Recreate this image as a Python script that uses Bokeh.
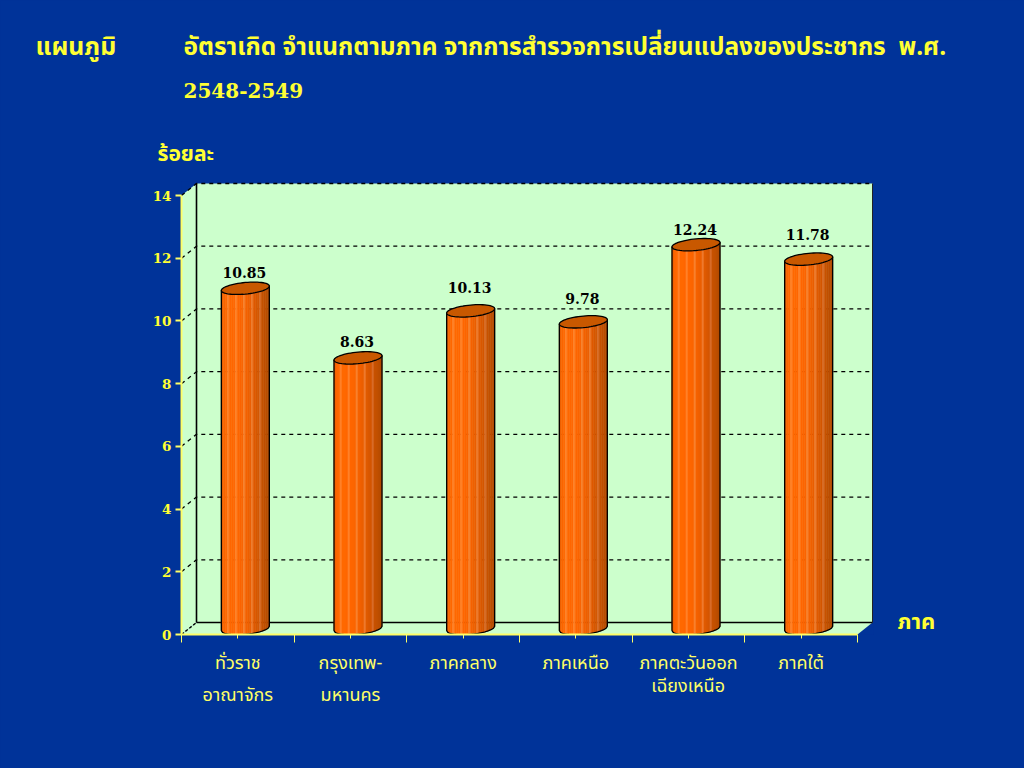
import numpy as np
from bokeh.plotting import figure
from bokeh.models import Label, FixedTicker, LinearAxis
from bokeh.embed import file_html
from bokeh.resources import INLINE

# ---- data ----
values = [10.85, 8.63, 10.13, 9.78, 12.24, 11.78]
value_labels = ["10.85", "8.63", "10.13", "9.78", "12.24", "11.78"]
cat_line1 = ["ทั่วราช", "กรุงเทพ-", "ภาคกลาง", "ภาคเหนือ", "ภาคตะวันออก", "ภาคใต้"]
cat_line2 = ["อาณาจักร", "มหานคร", "", "", "เฉียงเหนือ", ""]
y_ticks = [0, 2, 4, 6, 8, 10, 12, 14]
title_left = "แผนภูมิ"
title_main = "อัตราเกิด จำแนกตามภาค จากการสำรวจการเปลี่ยนแปลงของประชากร\u00a0\u00a0พ.ศ."
title_years = "2548-2549"
y_title = "ร้อยละ"
x_title = "ภาค"

# ---- style / layout ----
BG = "#003399"
WALL = "#CCFFCC"
YEL = "#FFFF66"
TITLE_YEL = "#FFFF33"
THAI = "Noto Sans Thai"
NUM = "DejaVu Serif"
FW, FH = 1024, 768
Y0 = 634
PX_X = (857 - 181) / 6.0      # px per category
PX_Y = (634 - 195) / 14.0     # px per unit
DX, DY = 15 / PX_X, 12 / PX_Y # depth offset in data units
X_MAX, Y_MAX = (873 - 181) / PX_X, (Y0 - 181) / PX_Y
STRIPES = ["#EE6000", "#FB6600", "#FF6800", "#FF8028", "#FF6800", "#FF6800", "#FF6600", "#FF8028",
           "#FF6600", "#FD6500", "#FB6400", "#F8802E", "#F56200", "#F06000", "#EB5E00", "#EE7A2E",
           "#E05A00", "#DA5800", "#D45600", "#D86C28", "#C85200", "#C25000", "#BC4E00", "#B44A00"]
LABEL_LIFT = [1, 2, 9, 9, 1, 10]  # px the value texts sit above their bars

p = figure(width=FW, height=FH, x_range=(0, X_MAX), y_range=(0, Y_MAX),
           output_backend="svg", toolbar_location=None,
           min_border_left=181, min_border_right=151, min_border_top=181, min_border_bottom=FH - Y0,
           background_fill_color=BG, border_fill_color=BG, outline_line_color=None)
p.grid.visible = False
p.xaxis.visible = False
p.yaxis.visible = False

# walls
n = len(values)
top = y_ticks[-1] + DY
p.patch([0, DX, DX, 0], [0, DY, top, top - DY], fill_color=WALL, line_color=None)
p.patch([0, n, n + DX, DX], [0, 0, DY, DY], fill_color=WALL, line_color=None)
p.quad(left=DX, right=n + DX, bottom=DY, top=top, fill_color=WALL, line_color=None)

# grid on walls
for t in y_ticks[1:]:
    p.line([0, DX, n + DX], [t, t + DY, t + DY], line_color="black", line_width=1.3, line_dash="4 4")
p.line([0, DX], [0, DY], line_color="black", line_width=1.3, line_dash="3 2")
p.line([DX, DX], [DY, top], line_color="black", line_width=1.6)
p.line([DX, n + DX], [DY, DY], line_color="black", line_width=1.6)
p.line([n + DX, n + DX], [DY, top], line_color="#222222", line_width=1)

# cylinders
RX, RY, TILT = 24 / PX_X, 5.8 / PX_Y, 2.2 / PX_Y
CUT = 0.5 * DY
for i, v in enumerate(values):
    cx = i + 0.5 + 0.5 * DX
    ct = v + CUT
    cb = CUT
    edges = np.linspace(-1, 1, len(STRIPES) + 1)
    def low(u, c):
        return c + TILT * u - RY * np.sqrt(np.clip(1 - u * u, 0, 1))
    xs, ys = [], []
    for a, b in zip(edges[:-1], edges[1:]):
        xs.append([cx + RX * a, cx + RX * b, cx + RX * b, cx + RX * a])
        ys.append([low(a, cb), low(b, cb), low(b, ct), low(a, ct)])
    p.patches(xs, ys, fill_color=STRIPES, line_color=STRIPES, line_width=0.6)
    uu = np.linspace(-1, 1, 41)
    ox = list(cx + RX * uu) + [cx + RX, cx - RX, cx - RX]
    oy = list(low(uu, cb)) + [ct + TILT, ct - TILT, low(-1.0, cb)]
    p.line(ox, oy, line_color="black", line_width=1.3)
    tt = np.linspace(0, 2 * np.pi, 61)
    p.patch(cx + RX * np.cos(tt), ct + TILT * np.cos(tt) + RY * np.sin(tt),
            fill_color="#C85800", line_color="black", line_width=1.3)
    p.add_layout(Label(x=cx, y=v + 2 * CUT, text=value_labels[i], text_align="center",
                       text_baseline="bottom", text_color="black", text_font=NUM,
                       text_font_size="14px", text_font_style="bold", x_offset=-1, y_offset=3 + LABEL_LIFT[i]))

# axes
yax = LinearAxis(ticker=FixedTicker(ticks=y_ticks), bounds=(0, 14),
                 axis_line_color=YEL, axis_line_width=2, major_tick_line_color=YEL, major_tick_line_width=2,
                 major_tick_in=0, major_tick_out=6, minor_tick_line_color=None,
                 major_label_text_color=TITLE_YEL, major_label_text_font=NUM, major_label_text_font_size="13.5px",
                 major_label_text_font_style="bold", major_label_standoff=4)
p.add_layout(yax, "left")
centres = [i + 0.5 for i in range(n)]
xax = LinearAxis(ticker=FixedTicker(ticks=centres, minor_ticks=list(range(n + 1))),
                 bounds=(0, n), axis_line_color=YEL, axis_line_width=2,
                 major_tick_line_color=YEL, major_tick_in=0, major_tick_out=4,
                 minor_tick_line_color=YEL, minor_tick_in=0, minor_tick_out=8,
                 major_label_overrides=dict(zip(centres, cat_line1)),
                 major_label_text_color=YEL, major_label_text_font=THAI, major_label_text_font_size="18px",
                 major_label_standoff=7)
p.add_layout(xax, "below")
second = [centres[i] for i in range(2)]
xax2 = LinearAxis(ticker=FixedTicker(ticks=second), bounds=(0, n), axis_line_color=None,
                  major_tick_line_color=None, minor_tick_line_color=None,
                  major_label_overrides=dict(zip(second, cat_line2[:2])),
                  major_label_text_color=YEL, major_label_text_font=THAI, major_label_text_font_size="18px",
                  major_label_standoff=-4)
p.add_layout(xax2, "below")

def put(px, py, txt, size, font=THAI, style="normal", align="left", color=TITLE_YEL):
    p.add_layout(Label(x=(px - 181) / PX_X, y=(Y0 - py) / PX_Y, text=txt, text_color=color, text_align=align,
                       text_baseline="middle", text_font=font, text_font_size=size,
                       text_font_style=style), "above")

put(35, 47, title_left, "24.8px", style="bold")
put(183, 47, title_main, "24.4px", style="bold")
put(183, 90, title_years, "20px", font=NUM, style="bold")
put(157, 154, y_title, "21px", style="bold")
put(897, 622, x_title, "22px", style="bold")
put(237 + 4 * PX_X, 686, cat_line2[4], "18px", align="center", color=YEL)

html = file_html(p, INLINE)
html = html.replace("<head>", "<head><style>html,body{background:%s}</style>" % BG, 1)
open("out.html", "w").write(html)
